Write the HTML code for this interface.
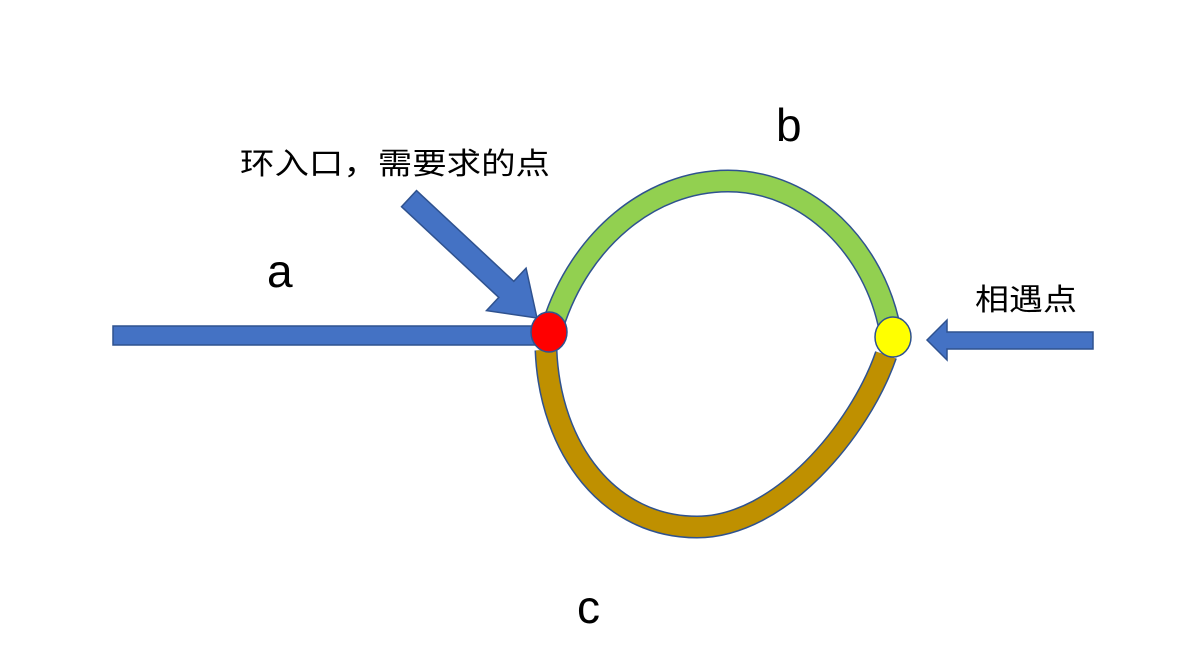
<!DOCTYPE html>
<html><head><meta charset="utf-8"><style>
html,body{margin:0;padding:0;background:#fff;width:1189px;height:668px;overflow:hidden}
svg text{font-family:"Liberation Sans","Noto Sans CJK SC",sans-serif;fill:#000}
</style></head><body>
<svg width="1189" height="668" viewBox="0 0 1189 668" xmlns="http://www.w3.org/2000/svg">
<rect x="113" y="326" width="430" height="19" fill="#4472c4" stroke="#2f528f" stroke-width="1.5"/>
<g transform="translate(537,318) rotate(43)">
<polygon points="0,0 -42,-29 -42,-11 -175,-11 -175,11 -42,11 -42,29" fill="#4472c4" stroke="#2f528f" stroke-width="1.5"/>
</g>
<polygon points="927,340 947,320 947,332 1093,332 1093,349 947,349 947,360" fill="#4472c4" stroke="#2f528f" stroke-width="1.5"/>
<path d="M553,325 C580,240 650,181 728,181 C810,181 875,250 890,330" fill="none" stroke="#2f528f" stroke-width="23"/>
<path d="M553,325 C580,240 650,181 728,181 C810,181 875,250 890,330" fill="none" stroke="#92d050" stroke-width="20"/>
<path d="M546,350 C550,450 610,527 697,527 C780,527 860,430 886,355" fill="none" stroke="#2f528f" stroke-width="23"/>
<path d="M546,350 C550,450 610,527 697,527 C780,527 860,430 886,355" fill="none" stroke="#bf9000" stroke-width="20"/>
<ellipse cx="549" cy="332" rx="18" ry="20" fill="#ff0000" stroke="#2f528f" stroke-width="1.5"/>
<ellipse cx="893" cy="337" rx="18" ry="20" fill="#ffff00" stroke="#2f528f" stroke-width="1.5"/>
<text x="240" y="174" font-size="30" textLength="310" lengthAdjust="spacingAndGlyphs">环入口，需要求的点</text>
<text x="975" y="310" font-size="30" textLength="102" lengthAdjust="spacingAndGlyphs">相遇点</text>
<text x="776" y="141" font-size="46">b</text>
<text x="267" y="287" font-size="46">a</text>
<text x="577" y="623" font-size="46">c</text>
</svg>
</body></html>
